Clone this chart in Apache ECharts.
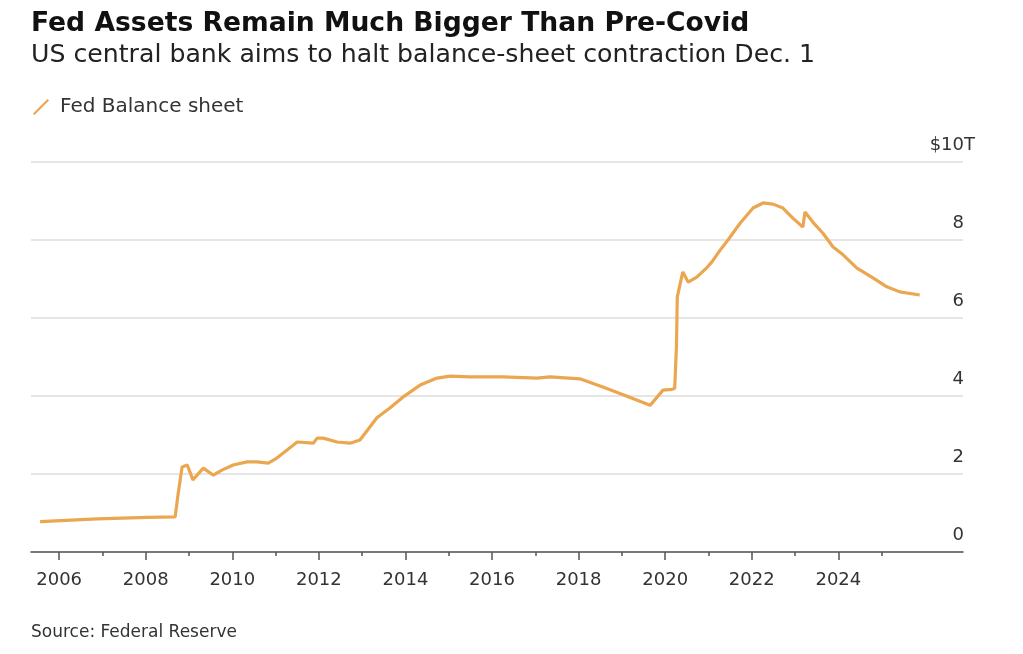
<!DOCTYPE html>
<html>
<head>
<meta charset="utf-8">
<script src="https://cdn.jsdelivr.net/npm/echarts@6/dist/echarts.min.js"></script>
<style>
html,body{margin:0;padding:0;background:#fff;}
#c{width:1023px;height:654px;}
</style>
</head>
<body>
<div id="c"></div>
<script>
const years = [2005.56,2006.88,2008.03,2008.68,2008.75,2008.84,2008.96,2009.09,2009.33,2009.56,2009.76,2010.02,2010.34,2010.57,2010.83,2011.03,2011.5,2011.87,2011.96,2012.1,2012.42,2012.72,2012.95,2013.34,2013.64,2013.94,2014.34,2014.73,2015.03,2015.49,2016.25,2017.04,2017.34,2018.03,2018.56,2019.03,2019.65,2019.76,2019.95,2020.16,2020.22,2020.26,2020.28,2020.38,2020.41,2020.53,2020.73,2020.97,2021.08,2021.27,2021.45,2021.73,2022.03,2022.26,2022.49,2022.72,2022.95,2023.18,2023.23,2023.41,2023.64,2023.88,2024.11,2024.43,2024.8,2025.12,2025.42,2025.88];
const assets = [0.78,0.85,0.89,0.9,1.5,2.18,2.23,1.85,2.15,1.97,2.1,2.23,2.31,2.31,2.28,2.41,2.82,2.79,2.92,2.92,2.82,2.79,2.87,3.44,3.69,3.97,4.28,4.46,4.51,4.49,4.49,4.46,4.49,4.44,4.23,4.03,3.76,3.9,4.15,4.17,4.2,5.26,6.54,7.05,7.18,6.92,7.05,7.3,7.44,7.74,8.0,8.43,8.82,8.95,8.92,8.82,8.56,8.33,8.72,8.46,8.18,7.82,7.62,7.28,7.03,6.8,6.67,6.59];
const majorYears = [2006,2008,2010,2012,2014,2016,2018,2020,2022,2024];
const minorYears = [2007,2009,2011,2013,2015,2017,2019,2021,2023,2025];

const FONT = '"DejaVu Sans", "Liberation Sans", Arial, sans-serif';
const chart = echarts.init(document.getElementById('c'));
chart.setOption({
  animation: false,
  backgroundColor: '#fff',
  textStyle: {fontFamily: FONT},
  title: [
    {text: 'Fed Assets Remain Much Bigger Than Pre-Covid', left: 31, top: 11, padding: 0,
     textStyle: {fontSize: 26.6, fontWeight: 'bold', color: '#111', fontFamily: FONT}},
    {text: 'US central bank aims to halt balance-sheet contraction Dec. 1', left: 31, top: 43, padding: 0,
     textStyle: {fontSize: 25.2, fontWeight: 'normal', color: '#222', fontFamily: FONT}},
    {text: 'Source: Federal Reserve', left: 31, top: 624, padding: 0,
     textStyle: {fontSize: 17, fontWeight: 'normal', color: '#333', fontFamily: FONT}}
  ],
  legend: {
    left: 33, top: 97, padding: 0, itemWidth: 16, itemHeight: 16, itemGap: 10,
    icon: 'path://M0,14.5 L14.5,0 L16,1.5 L1.5,16 Z',
    textStyle: {fontSize: 20, color: '#333', fontFamily: FONT, padding: [0,0,0,6]},
    data: ['Fed Balance sheet']
  },
  grid: {left: 31, right: 60, top: 162, bottom: 102},
  xAxis: [
    {type: 'value', min: 2005.35, max: 2026.88,
     axisLine: {show: true, lineStyle: {color: '#555', width: 1.5}},
     axisTick: {show: true, customValues: majorYears, length: 8, lineStyle: {color: '#555', width: 1.5}},
     axisLabel: {show: true, customValues: majorYears, margin: 19, fontSize: 18, color: '#333', fontFamily: FONT,
                 formatter: v => String(v)},
     splitLine: {show: false}},
    {type: 'value', min: 2005.35, max: 2026.88, position: 'bottom',
     axisLine: {show: false},
     axisTick: {show: true, customValues: minorYears, length: 4, lineStyle: {color: '#555', width: 1.5}},
     axisLabel: {show: false},
     splitLine: {show: false}}
  ],
  yAxis: {
    type: 'value', position: 'right', min: 0, max: 10, interval: 2,
    axisLine: {show: false}, axisTick: {show: false},
    axisLabel: {inside: true, margin: -12, fontSize: 18, color: '#333', fontFamily: FONT,
                verticalAlign: 'bottom', padding: [0,0,8,0],
                formatter: v => v === 10 ? '{n|$10}{u|T}' : '{n|' + v + '}{h|T}',
                rich: {
                  n: {fontSize: 18, color: '#333', fontFamily: FONT},
                  u: {fontSize: 18, color: '#333', fontFamily: FONT},
                  h: {fontSize: 18, color: 'rgba(0,0,0,0)', fontFamily: FONT}
                }},
    splitLine: {show: true, lineStyle: {color: '#dcdcdc', width: 1.5}}
  },
  series: [{
    name: 'Fed Balance sheet', type: 'line', xAxisIndex: 0, showSymbol: false, symbol: 'none',
    data: years.map((y, i) => [y, assets[i]]),
    lineStyle: {color: '#EBA650', width: 3.2},
    itemStyle: {color: '#EBA650'}
  }]
});
</script>
</body>
</html>
